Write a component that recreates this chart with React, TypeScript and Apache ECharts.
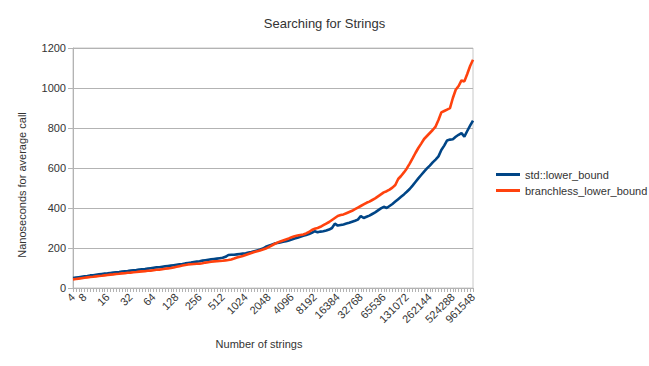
import React, { useEffect, useRef } from "react";
import * as echarts from "echarts";

const sizes: number[] = [
  4, 5, 6, 7, 8, 9, 10, 11, 12, 13, 14, 15,
  16, 17, 19, 21, 23, 25, 27, 29,
  32, 35, 38, 41, 45, 49, 54, 59,
  64, 70, 76, 83, 91, 99, 108, 117,
  128, 140, 152, 166, 181, 197, 215, 235,
  256, 279, 304, 332, 362, 395, 431, 470,
  512, 558, 609, 664, 724, 790, 861, 939,
  1024, 1117, 1218, 1328, 1448, 1579, 1722, 1878,
  2048, 2233, 2435, 2656, 2896, 3158, 3444, 3756,
  4096, 4467, 4871, 5312, 5793, 6317, 6889, 7512,
  8192, 8933, 9742, 10624, 11585, 12634, 13777, 15024,
  16384, 17867, 19484, 21247, 23170, 25268, 27554, 30048,
  32768, 35734, 38968, 42495, 46341, 50535, 55109, 60097,
  65536, 71468, 77936, 84990, 92682, 101070, 110218, 120194,
  131072, 142935, 155872, 169979, 185364, 202141, 220436, 240388,
  262144, 285870, 311744, 339959, 370728, 404281, 440872, 480776,
  524288, 571740, 623487, 679917, 741455, 808563, 881744, 961548,
];

const tickLabels: string[] = [
  "4", "8", "16", "32", "64", "128", "256", "512", "1024", "2048", "4096",
  "8192", "16384", "32768", "65536", "131072", "262144", "524288", "961548",
];

const stdLowerBound: number[] = [
  50, 52, 54, 56, 58, 60, 63, 64, 66, 68,
  70, 72, 73, 75, 77, 79, 80, 82, 84, 85,
  87, 89, 90, 92, 94, 95, 97, 99, 101, 103,
  104, 106, 108, 110, 112, 114, 116, 118, 120, 123,
  125, 127, 130, 132, 134, 137, 139, 141, 143, 145,
  147, 149, 151, 156, 165, 166, 166, 168, 170, 172,
  174, 177, 180, 184, 188, 192, 197, 206, 211, 216,
  222, 225, 228, 231, 234, 238, 242, 247, 251, 256,
  261, 265, 270, 276, 284, 279, 282, 284, 287, 292,
  300, 322, 312, 315, 318, 322, 326, 331, 336, 342,
  360, 350, 356, 362, 370, 378, 388, 398, 406, 400,
  410, 420, 432, 444, 456, 468, 481, 495, 512, 530,
  548, 565, 582, 598, 612, 628, 642, 658, 690, 712,
  738, 742, 744, 756, 766, 774, 757, 785, 812, 837,
];

const branchlessLowerBound: number[] = [
  43, 45, 47, 49, 51, 53, 55, 56, 58, 60,
  61, 63, 65, 67, 68, 70, 71, 73, 74, 76,
  77, 79, 80, 82, 83, 84, 86, 87, 89, 91,
  92, 94, 96, 98, 100, 103, 106, 109, 112, 115,
  118, 119, 120, 121, 122, 124, 127, 129, 131, 133,
  134, 135, 136, 138, 140, 143, 147, 152, 156, 160,
  165, 170, 175, 180, 184, 188, 192, 197, 204, 212,
  220, 227, 233, 238, 243, 248, 254, 259, 262, 265,
  268, 273, 280, 290, 296, 300, 306, 314, 322, 330,
  340, 350, 360, 365, 368, 374, 380, 386, 394, 402,
  410, 418, 426, 432, 440, 448, 458, 468, 478, 484,
  492, 502, 515, 545, 560, 578, 598, 622, 648, 675,
  700, 722, 745, 760, 775, 790, 807, 840, 878, 885,
  892, 899, 950, 991, 1010, 1038, 1033, 1070, 1110, 1141,
];

const FONT = "Liberation Sans";

export default function App() {
  const ref = useRef<HTMLDivElement>(null);
  useEffect(() => {
    document.body.style.margin = "0";
    if (!ref.current) return;
    const chart = echarts.init(ref.current, undefined, { renderer: "svg" });
    chart.setOption({
      animation: false,
      backgroundColor: "#ffffff",
      title: {
        text: "Searching for Strings",
        left: "center",
        top: 12,
        textStyle: { fontFamily: FONT, fontSize: 13, fontWeight: "normal", color: "#333333" },
      },
      legend: {
        orient: "vertical",
        left: 491,
        top: 164,
        itemWidth: 24,
        itemHeight: 3,
        itemGap: 5,
        icon: "rect",
        textStyle: { fontFamily: FONT, fontSize: 11, color: "#333333" },
        data: ["std::lower_bound", "branchless_lower_bound"],
      },
      grid: {
        left: 73,
        top: 48,
        width: 400,
        height: 240,
        show: true,
        borderColor: "#c8c8c8",
        borderWidth: 1,
        backgroundColor: "transparent",
      },
      xAxis: {
        type: "category",
        boundaryGap: false,
        data: sizes.map(String),
        axisLine: { lineStyle: { color: "#b3b3b3" } },
        axisTick: { show: true, interval: 0, length: 4, lineStyle: { color: "#b3b3b3" } },
        axisLabel: {
          rotate: 45,
          interval: (_i: number, v: string) => tickLabels.includes(v),
          fontFamily: FONT,
          fontSize: 11,
          color: "#333333",
          margin: 7,
        },
        splitLine: { show: false },
      },
      yAxis: {
        type: "value",
        min: 0,
        max: 1200,
        interval: 200,
        axisLine: { show: true, lineStyle: { color: "#b3b3b3" } },
        axisTick: { show: true, length: 5, lineStyle: { color: "#b3b3b3" } },
        axisLabel: {
          fontFamily: FONT,
          fontSize: 11,
          color: "#333333",
          margin: 7,
          formatter: (v: number) => String(v),
        },
        splitLine: { lineStyle: { color: "#b3b3b3" } },
      },
      graphic: [
        {
          type: "text",
          x: 22,
          y: 185,
          rotation: Math.PI / 2,
          style: {
            text: "Nanoseconds for average call",
            fontFamily: FONT,
            fontSize: 11,
            fill: "#333333",
            align: "center",
            verticalAlign: "middle",
          },
        },
        {
          type: "text",
          x: 259,
          y: 344,
          style: {
            text: "Number of strings",
            fontFamily: FONT,
            fontSize: 11,
            fill: "#333333",
            align: "center",
            verticalAlign: "middle",
          },
        },
      ],
      series: [
        {
          name: "std::lower_bound",
          type: "line",
          data: stdLowerBound,
          showSymbol: false,
          symbol: "none",
          lineStyle: { color: "#004586", width: 2.6 },
          itemStyle: { color: "#004586" },
        },
        {
          name: "branchless_lower_bound",
          type: "line",
          data: branchlessLowerBound,
          showSymbol: false,
          symbol: "none",
          lineStyle: { color: "#ff420e", width: 2.6 },
          itemStyle: { color: "#ff420e" },
        },
      ],
    });
    return () => chart.dispose();
  }, []);
  return <div ref={ref} style={{ width: 649, height: 366 }} />;
}
